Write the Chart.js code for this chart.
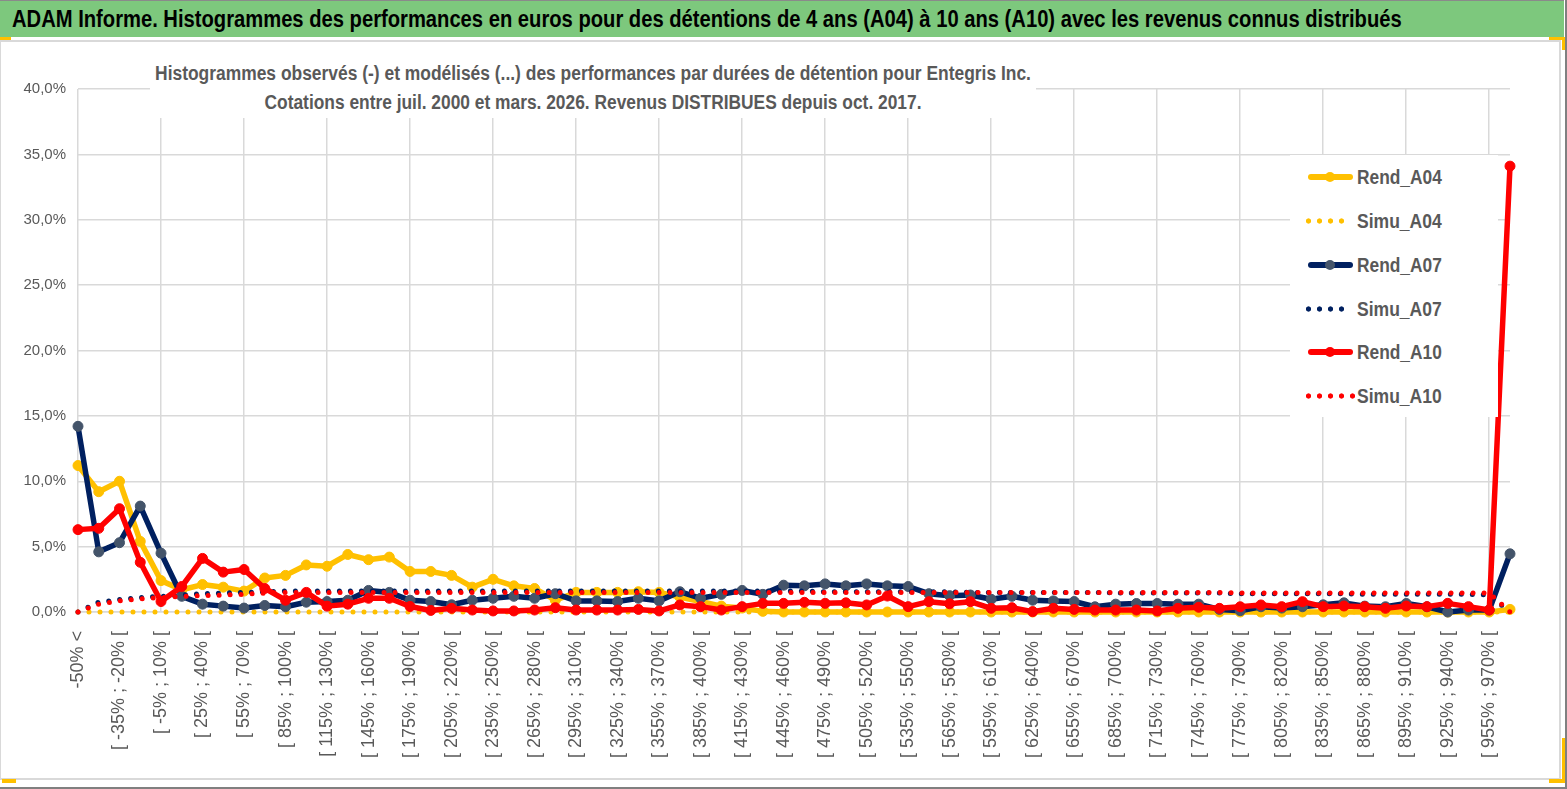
<!DOCTYPE html>
<html lang="fr">
<head>
<meta charset="utf-8">
<title>ADAM Informe - Entegris Inc.</title>
<script src="https://cdn.jsdelivr.net/npm/chart.js@4.4.1/dist/chart.umd.min.js"></script>
<style>
  html, body { margin: 0; padding: 0; background: #fff; }
  body { width: 1567px; height: 789px; position: relative; overflow: hidden; font-family: "Liberation Sans", Arial, sans-serif; }
  #page { position: absolute; left: 0; top: 0; width: 1565px; height: 787px; border-right: 2px solid #808080; border-bottom: 2px solid #808080; }
  #head { position: absolute; left: 0; top: 0; width: 1564px; height: 36px; background: #7dc87d; border-top: 1px solid #8a8a8a; }
  #head span { position: absolute; left: 12px; top: 5px; font: bold 23px "Liberation Sans Narrow", "Liberation Sans", sans-serif; white-space: nowrap; color: #000; transform-origin: left center; }
  #frame { position: absolute; left: 0; top: 40px; width: 1558px; height: 736px; border: 2px solid #d9d9d9; border-left-width: 1px; }
  #wrap { position: absolute; left: 0; top: 40px; width: 1560px; height: 738px; }
  #title { position: absolute; left: 150px; top: 55px; width: 886px; height: 63px; background: #fff; z-index: 2; }
  .tl { position: absolute; left: 443px; white-space: nowrap; font: bold 20px "Liberation Sans Narrow", "Liberation Sans", sans-serif; line-height: 24px; color: #595959; transform-origin: center center; }
  #legend { position: absolute; left: 1290px; top: 155px; width: 208px; height: 262px; background: #fff; z-index: 2; }
  .row { position: absolute; left: 0; width: 208px; height: 30px; }
  .row .txt { position: absolute; left: 67px; top: 3px; font: bold 20px "Liberation Sans Narrow", "Liberation Sans", sans-serif; line-height: 24px; color: #595959; white-space: nowrap; transform-origin: left center; }
  .solid { position: absolute; left: 18px; top: 12px; width: 45px; height: 6px; border-radius: 3px; }
  .solid i { position: absolute; left: 17px; top: -2px; width: 10px; height: 10px; border-radius: 50%; }
  .dots { position: absolute; left: 13px; top: 12px; height: 6px; background-size: 11px 6px; background-repeat: repeat-x; }
  .corner { position: absolute; background: #ffc000; z-index: 3; }
</style>
</head>
<body>
<div id="page"></div>
<div id="head"><span id="headText">ADAM Informe. Histogrammes des performances en euros pour des détentions de 4 ans (A04) à 10 ans (A10) avec les revenus connus distribués</span></div>
<div id="frame"></div>
<div id="wrap"><canvas id="chart"></canvas></div>
<div id="title">
  <div class="tl" id="t1" style="top:6px">Histogrammes observés (-) et modélisés (...) des performances par durées de détention pour Entegris Inc.</div>
  <div class="tl" id="t2" style="top:35px">Cotations entre juil. 2000 et mars. 2026. Revenus DISTRIBUES depuis oct. 2017.</div>
</div>
<div id="legend"></div>
<div class="corner" style="left:0;top:37px;width:11px;height:3px"></div>
<div class="corner" style="left:1549px;top:37px;width:16px;height:3px"></div>
<div class="corner" style="left:1562px;top:37px;width:3px;height:13px"></div>
<div class="corner" style="left:2px;top:779px;width:14px;height:4px"></div>
<div class="corner" style="left:1549px;top:779px;width:16px;height:4px"></div>
<div class="corner" style="left:1562px;top:738px;width:3px;height:45px"></div>
<script>
const categories = [
  '-50% <', '[ -50% ; -35% [', '[ -35% ; -20% [', '[ -20% ; -5% [', '[ -5% ; 10% [',
  '[ 10% ; 25% [', '[ 25% ; 40% [', '[ 40% ; 55% [', '[ 55% ; 70% [', '[ 70% ; 85% [',
  '[ 85% ; 100% [', '[ 100% ; 115% [', '[ 115% ; 130% [', '[ 130% ; 145% [', '[ 145% ; 160% [',
  '[ 160% ; 175% [', '[ 175% ; 190% [', '[ 190% ; 205% [', '[ 205% ; 220% [', '[ 220% ; 235% [',
  '[ 235% ; 250% [', '[ 250% ; 265% [', '[ 265% ; 280% [', '[ 280% ; 295% [', '[ 295% ; 310% [',
  '[ 310% ; 325% [', '[ 325% ; 340% [', '[ 340% ; 355% [', '[ 355% ; 370% [', '[ 370% ; 385% [',
  '[ 385% ; 400% [', '[ 400% ; 415% [', '[ 415% ; 430% [', '[ 430% ; 445% [', '[ 445% ; 460% [',
  '[ 460% ; 475% [', '[ 475% ; 490% [', '[ 490% ; 505% [', '[ 505% ; 520% [', '[ 520% ; 535% [',
  '[ 535% ; 550% [', '[ 550% ; 565% [', '[ 565% ; 580% [', '[ 580% ; 595% [', '[ 595% ; 610% [',
  '[ 610% ; 625% [', '[ 625% ; 640% [', '[ 640% ; 655% [', '[ 655% ; 670% [', '[ 670% ; 685% [',
  '[ 685% ; 700% [', '[ 700% ; 715% [', '[ 715% ; 730% [', '[ 730% ; 745% [', '[ 745% ; 760% [',
  '[ 760% ; 775% [', '[ 775% ; 790% [', '[ 790% ; 805% [', '[ 805% ; 820% [', '[ 820% ; 835% [',
  '[ 835% ; 850% [', '[ 850% ; 865% [', '[ 865% ; 880% [', '[ 880% ; 895% [', '[ 895% ; 910% [',
  '[ 910% ; 925% [', '[ 925% ; 940% [', '[ 940% ; 955% [', '[ 955% ; 970% [', '970% >'
];

// values in %
const rendA04 = [
  11.2, 9.2, 10.0, 5.4, 2.4, 1.7, 2.1, 1.9, 1.6, 2.6,
  2.8, 3.6, 3.5, 4.4, 4.0, 4.2, 3.1, 3.1, 2.8, 1.9,
  2.5, 2.0, 1.8, 0.9, 1.5, 1.5, 1.5, 1.55, 1.5, 1.15,
  0.8, 0.45, 0.3, 0.05, 0.0, 0.0, 0.0, 0.0, 0.0, 0.0,
  0.0, 0.0, 0.0, 0.0, 0.0, 0.0, 0.0, 0.0, 0.0, 0.0,
  0.0, 0.0, 0.0, 0.0, 0.0, 0.0, 0.0, 0.0, 0.0, 0.0,
  0.0, 0.0, 0.0, 0.0, 0.0, 0.0, 0.0, 0.0, 0.0, 0.2
];
const simuA04 = [
  0.0, 0.0, 0.0, 0.0, 0.0, 0.0, 0.0, 0.0, 0.0, 0.0,
  0.0, 0.0, 0.0, 0.0, 0.0, 0.0, 0.0, 0.0, 0.0, 0.0,
  0.0, 0.0, 0.0, 0.0, 0.0, 0.0, 0.0, 0.0, 0.0, 0.0,
  0.0, 0.0, 0.0, 0.0, 0.0, 0.0, 0.0, 0.0, 0.0, 0.0,
  0.0, 0.0, 0.0, 0.0, 0.0, 0.0, 0.0, 0.0, 0.0, 0.0,
  0.0, 0.0, 0.0, 0.0, 0.0, 0.0, 0.0, 0.0, 0.0, 0.0,
  0.0, 0.0, 0.0, 0.0, 0.0, 0.0, 0.0, 0.0, 0.0, 0.0
];
const rendA07 = [
  14.2, 4.6, 5.3, 8.1, 4.5, 1.2, 0.6, 0.45, 0.3, 0.5,
  0.4, 0.75, 0.8, 0.9, 1.65, 1.5, 0.9, 0.8, 0.55, 0.9,
  1.05, 1.2, 1.05, 1.4, 0.85, 0.85, 0.8, 1.05, 0.85, 1.55,
  1.05, 1.35, 1.65, 1.35, 2.05, 2.0, 2.15, 2.0, 2.15, 2.0,
  1.95, 1.4, 1.25, 1.3, 0.97, 1.2, 0.9, 0.85, 0.8, 0.4,
  0.6, 0.65, 0.65, 0.6, 0.6, 0.2, 0.1, 0.4, 0.3, 0.4,
  0.55, 0.7, 0.45, 0.4, 0.65, 0.4, 0.0, 0.15, 0.15, 4.45
];
const simuA07 = [
  0.0, 0.75, 0.95, 1.1, 1.2, 1.3, 1.4, 1.45, 1.5, 1.55,
  1.6, 1.6, 1.6, 1.6, 1.6, 1.6, 1.6, 1.6, 1.6, 1.6,
  1.6, 1.6, 1.6, 1.6, 1.6, 1.6, 1.6, 1.6, 1.6, 1.6,
  1.6, 1.6, 1.6, 1.6, 1.6, 1.6, 1.55, 1.55, 1.55, 1.55,
  1.55, 1.55, 1.55, 1.5, 1.5, 1.5, 1.5, 1.5, 1.5, 1.5,
  1.45, 1.45, 1.45, 1.45, 1.45, 1.45, 1.4, 1.4, 1.4, 1.4,
  1.4, 1.4, 1.35, 1.35, 1.35, 1.35, 1.35, 1.35, 1.3, 0.0
];
const rendA10 = [
  6.3, 6.4, 7.9, 3.8, 0.8, 1.95, 4.1, 3.05, 3.25, 1.8,
  0.9, 1.5, 0.45, 0.6, 1.05, 1.05, 0.42, 0.12, 0.28, 0.15,
  0.08, 0.08, 0.15, 0.33, 0.15, 0.15, 0.15, 0.2, 0.08, 0.54,
  0.41, 0.15, 0.41, 0.66, 0.66, 0.74, 0.66, 0.7, 0.54, 1.22,
  0.41, 0.79, 0.63, 0.79, 0.28, 0.33, 0.03, 0.28, 0.2, 0.15,
  0.15, 0.15, 0.08, 0.28, 0.36, 0.28, 0.4, 0.54, 0.41, 0.79,
  0.41, 0.46, 0.41, 0.28, 0.46, 0.41, 0.66, 0.41, 0.15, 34.1
];
const simuA10 = [
  0.0, 0.6, 0.85, 1.0, 1.1, 1.2, 1.25, 1.3, 1.35, 1.45,
  1.5, 1.5, 1.5, 1.5, 1.5, 1.5, 1.5, 1.5, 1.5, 1.5,
  1.5, 1.5, 1.5, 1.5, 1.5, 1.5, 1.5, 1.5, 1.5, 1.5,
  1.5, 1.5, 1.5, 1.5, 1.5, 1.5, 1.5, 1.5, 1.5, 1.5,
  1.5, 1.5, 1.5, 1.5, 1.5, 1.5, 1.5, 1.5, 1.5, 1.5,
  1.5, 1.5, 1.5, 1.5, 1.5, 1.5, 1.45, 1.45, 1.45, 1.45,
  1.45, 1.45, 1.45, 1.45, 1.45, 1.45, 1.45, 1.45, 1.45, 0.0
];

const seriesNames = ['Rend_A04', 'Simu_A04', 'Rend_A07', 'Simu_A07', 'Rend_A10', 'Simu_A10'];
const seriesData = [rendA04, simuA04, rendA07, simuA07, rendA10, simuA10];
const seriesColors = ['#ffc000', '#ffc000', '#002060', '#002060', '#ff0000', '#ff0000'];
const markerColors = ['#ffc000', null, '#44546a', null, '#ff0000', null];

const GRID = '#d9d9d9';
const TEXT = '#595959';

function fitText(el, target, centered) {
  const w = el.offsetWidth;
  if (!w) return;
  const s = target / w;
  el.style.transform = (centered ? 'translateX(-50%) ' : '') + 'scaleX(' + s + ')';
}

function buildLegend() {
  const box = document.getElementById('legend');
  const tops = [7, 51, 95, 139, 182, 226];
  seriesNames.forEach((name, i) => {
    const row = document.createElement('div');
    row.className = 'row';
    row.style.top = tops[i] + 'px';
    const col = seriesColors[i];
    if (markerColors[i]) {
      row.innerHTML = `<div class="solid" style="background:${col}"><i style="background:${markerColors[i]}"></i></div>`;
    } else {
      const n = name === 'Simu_A10' ? 5 : 4;
      row.innerHTML = `<div class="dots" style="width:${n * 11}px;background-image:radial-gradient(circle at 5.5px 3px, ${col} 2.3px, transparent 2.9px)"></div>`;
    }
    const t = document.createElement('span');
    t.className = 'txt';
    t.textContent = name;
    row.appendChild(t);
    box.appendChild(row);
    fitText(t, 85, false);
  });
}

fitText(document.getElementById('headText'), 1390, false);
fitText(document.getElementById('t1'), 876, true);
fitText(document.getElementById('t2'), 657, true);
buildLegend();

const datasets = seriesData.map((data, i) => {
  const solid = !!markerColors[i];
  return {
    label: seriesNames[i],
    data,
    order: 5 - i,
    borderColor: seriesColors[i],
    backgroundColor: seriesColors[i],
    borderWidth: solid ? 5.5 : 5,
    borderDash: solid ? [] : [0, 11],
    borderCapStyle: 'round',
    borderJoinStyle: 'round',
    tension: 0,
    fill: false,
    clip: false,
    pointRadius: solid ? 5 : 0,
    pointHoverRadius: solid ? 5 : 0,
    pointBackgroundColor: markerColors[i] || seriesColors[i],
    pointBorderColor: markerColors[i] || seriesColors[i],
    pointBorderWidth: 1,
  };
});

new Chart(document.getElementById('chart'), {
  type: 'line',
  data: { labels: categories, datasets },
  options: {
    responsive: true,
    maintainAspectRatio: false,
    animation: false,
    layout: { padding: { top: 49, right: 50, bottom: 0, left: 0 } },
    plugins: {
      legend: { display: false },
      tooltip: { enabled: false },
    },
    scales: {
      x: {
        offset: false,
        grid: {
          color: (ctx) => (ctx.index % 4 === 0 ? GRID : 'rgba(0,0,0,0)'),
          lineWidth: 1.5,
          drawTicks: false,
        },
        border: { color: GRID, width: 1.5 },
        ticks: {
          autoSkip: false,
          minRotation: 90,
          maxRotation: 90,
          padding: 19,
          color: TEXT,
          font: { family: '"Liberation Sans", Arial, sans-serif', size: 18 },
          callback: function (value, index) {
            return index % 2 === 0 ? this.getLabelForValue(value) : '';
          },
        },
        afterFit: (scale) => { scale.height = 166; },
      },
      y: {
        min: 0,
        max: 40,
        grid: { color: GRID, lineWidth: 1.5, drawTicks: false },
        border: { display: false },
        ticks: {
          stepSize: 5,
          padding: 12,
          color: TEXT,
          font: { family: '"Liberation Sans", Arial, sans-serif', size: 15 },
          callback: (v) => v.toFixed(1).replace('.', ',') + '%',
        },
        afterFit: (scale) => { scale.width = 78; },
      },
    },
  },
});
</script>
</body>
</html>
